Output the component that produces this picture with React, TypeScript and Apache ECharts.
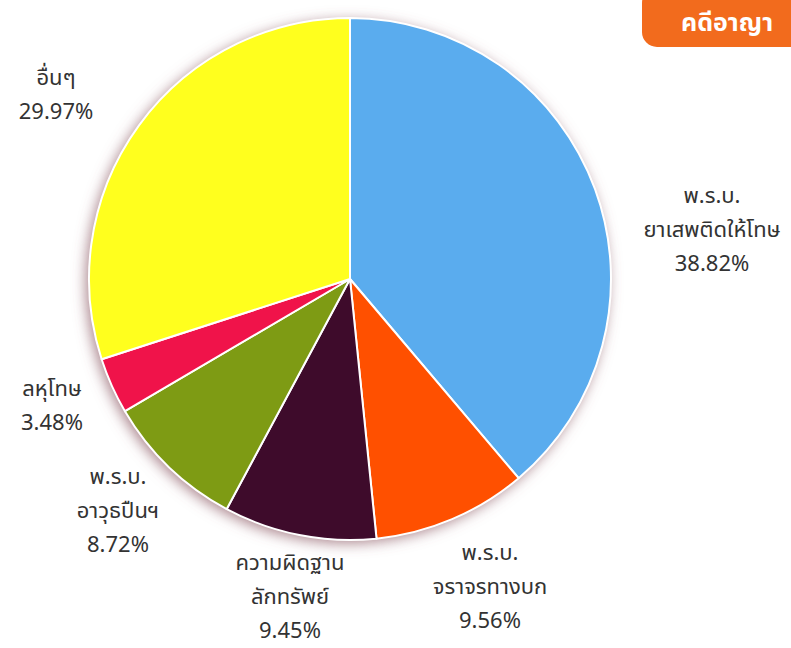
import React, { useEffect, useRef } from "react";
import * as echarts from "echarts";

const categories = [
  "พ.ร.บ.\nยาเสพติดให้โทษ",
  "พ.ร.บ.\nจราจรทางบก",
  "ความผิดฐาน\nลักทรัพย์",
  "พ.ร.บ.\nอาวุธปืนฯ",
  "ลหุโทษ",
  "อื่นๆ",
];
const values = [38.82, 9.56, 9.45, 8.72, 3.48, 29.97];
const colors = ["#5AACEE", "#FF5000", "#3E0B2B", "#7E9B14", "#F0134A", "#FFFF1E"];
const title = "คดีอาญา";

const labelPos: [number, number][] = [
  [712, 230],
  [490, 587],
  [290, 597],
  [118, 511],
  [52, 406],
  [56, 95],
];

const FONT = "'Noto Sans Thai', Tahoma, 'DejaVu Sans', 'Noto Sans', sans-serif";

export default function App() {
  const ref = useRef<HTMLDivElement>(null);
  useEffect(() => {
    document.body.style.margin = "0";
    const chart = echarts.init(ref.current!, null, { renderer: "svg" });
    chart.setOption({
      animation: false,
      backgroundColor: "#ffffff",
      graphic: [
        {
          type: "rect",
          shape: { x: 642, y: -12, width: 170, height: 59, r: 15 },
          style: { fill: "#F26B1D" },
          z: 10,
        },
        {
          type: "text",
          x: 727,
          y: 23,
          style: {
            text: title,
            fill: "#ffffff",
            font: `bold 25px ${FONT}`,
            textAlign: "center",
            textVerticalAlign: "middle",
          },
          z: 11,
        },
      ],
      series: [
        {
          type: "pie",
          silent: true,
          center: [350, 279],
          radius: 261,
          z: 1,
          label: { show: false },
          labelLine: { show: false },
          itemStyle: {
            color: "#ffffff",
            shadowBlur: 14,
            shadowColor: "rgba(140,90,100,0.75)",
            shadowOffsetX: -3,
            shadowOffsetY: 3,
          },
          data: [{ value: 1, name: "" }],
        },
        {
          type: "pie",
          center: [350, 279],
          radius: 261,
          z: 2,
          startAngle: 90,
          clockwise: true,
          color: colors,
          itemStyle: { borderColor: "#ffffff", borderWidth: 2 },
          label: {
            show: true,
            position: "outside",
            formatter: (p: any) => `${p.name}\n${p.value.toFixed(2)}%`,
            fontSize: 22,
            lineHeight: 34,
            color: "#333333",
            fontFamily: FONT,
            align: "center",
            overflow: "none",
            edgeDistance: 0,
          },
          labelLine: { show: false },
          labelLayout: (params: any) => {
            const pos = labelPos[params.dataIndex];
            return { x: pos[0], y: pos[1], align: "center", verticalAlign: "middle" };
          },
          data: categories.map((c, i) => ({ name: c, value: values[i] })),
        },
      ],
    });
    return () => chart.dispose();
  }, []);
  return <div ref={ref} style={{ width: 791, height: 648 }} />;
}
